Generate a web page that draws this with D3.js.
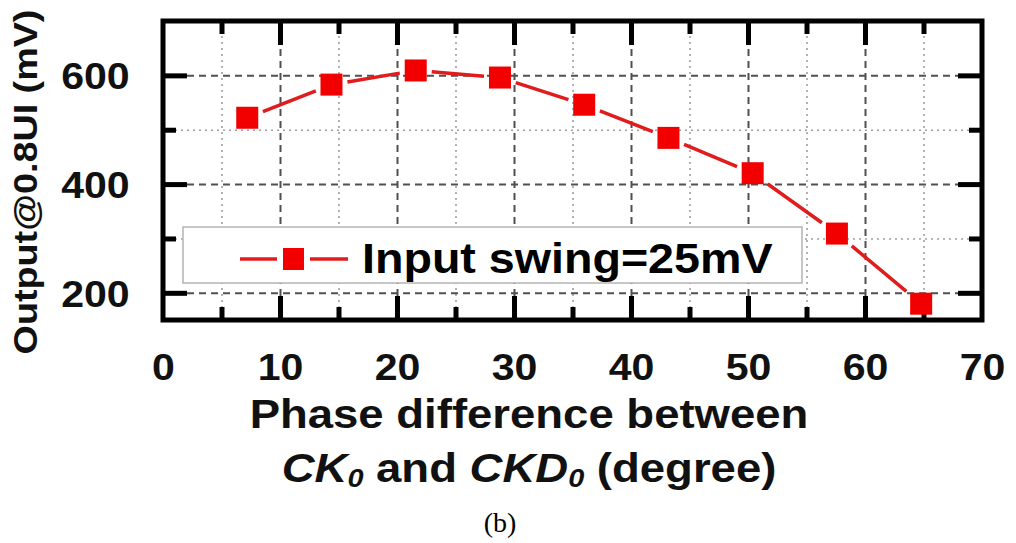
<!DOCTYPE html>
<html>
<head>
<meta charset="utf-8">
<script src="https://cdn.jsdelivr.net/npm/d3@7"></script>
<style>
  body { margin: 0; background: #fff; }
  svg { display: block; }
</style>
</head>
<body>
<svg id="chart" width="1016" height="543"></svg>
<script>

// values
const phase  = [7.2, 14.4, 21.6, 28.8, 36, 43.2, 50.4, 57.6, 64.8];
const output = [522, 583, 609, 596, 546, 485, 420, 309, 180];

const xMajor = [0, 10, 20, 30, 40, 50, 60, 70];
const xMinor = [5, 15, 25, 35, 45, 55, 65];
const yMajor = [200, 400, 600];
const yMinor = [300, 500];

const seriesName = "Input swing=25mV";
const yTitle = "Output@0.8UI (mV)";
const caption = "(b)";

const FONT = "'Liberation Sans', Arial, Helvetica, sans-serif";
const RED_LINE = "#e01c1c";
const RED_MARK = "#f20000";
const STRETCH = 1.11;   // the original type is a bit wider than Arial

let svg = d3.select("#chart");

let m = { l: 163, r: 982, t: 21, b: 320 };
let pw = m.r - m.l, ph = m.b - m.t;

let x = d3.scaleLinear().domain([0, 70]).range([m.l, m.r]);
let y = d3.scaleLinear().domain([150, 700]).range([m.b, m.t]);

function bare(g) {
    g.select(".domain").remove();
    g.selectAll("text").remove();
}

// grid: dotted minor, dashed major
function grid(axis, tr, values, dash, color, w) {
    let g = svg.append("g").attr("transform", tr);
    g.call(axis.tickValues(values));
    bare(g);
    g.selectAll("line")
        .attr("stroke", color)
        .attr("stroke-width", w)
        .attr("stroke-dasharray", dash);
}
let xIn = xMajor.filter(v => v > 0 && v < 70);
grid(d3.axisBottom(x).tickSize(-ph), `translate(0,${m.b})`, xMinor, "2,4", "#a0a0a0", 1.6);
grid(d3.axisLeft(y).tickSize(-pw), `translate(${m.l},0)`, yMinor, "2,4", "#a0a0a0", 1.6);
grid(d3.axisBottom(x).tickSize(-ph), `translate(0,${m.b})`, xIn, "7,5", "#505050", 2);
grid(d3.axisLeft(y).tickSize(-pw), `translate(${m.l},0)`, yMajor, "7,5", "#505050", 2);

// legend box (covers the grid)
let lg = svg.append("g");
lg.append("rect")
    .attr("x", 183).attr("y", 227)
    .attr("width", 619).attr("height", 56)
    .attr("fill", "#fff")
    .attr("stroke", "#b4b4b4")
    .attr("stroke-width", 1.5);
lg.append("line").attr("x1", 240).attr("x2", 277).attr("y1", 259).attr("y2", 259)
    .attr("stroke", RED_LINE).attr("stroke-width", 3.5);
lg.append("line").attr("x1", 310).attr("x2", 348).attr("y1", 259).attr("y2", 259)
    .attr("stroke", RED_LINE).attr("stroke-width", 3.5);
lg.append("rect").attr("x", 283).attr("y", 248).attr("width", 21).attr("height", 22)
    .attr("fill", RED_MARK);
lg.append("text")
    .attr("transform", `translate(362,273) scale(${STRETCH},1)`)
    .attr("font-family", FONT).attr("font-weight", "bold").attr("font-size", 42)
    .text(seriesName);

// inward ticks on all four sides
function ticks(axis, tr, values, len) {
    let g = svg.append("g").attr("transform", tr);
    g.call(axis.tickValues(values).tickSize(-len));
    g.select(".domain").remove();
    g.selectAll("text").remove();
    g.selectAll("line")
        .attr("stroke", "#000")
        .attr("stroke-width", 5);
}
ticks(d3.axisBottom(x), `translate(0,${m.b})`, xIn, 24);
ticks(d3.axisBottom(x), `translate(0,${m.b})`, xMinor, 13);
ticks(d3.axisTop(x), `translate(0,${m.t})`, xIn, 24);
ticks(d3.axisTop(x), `translate(0,${m.t})`, xMinor, 13);
ticks(d3.axisLeft(y), `translate(${m.l},0)`, yMajor, 24);
ticks(d3.axisLeft(y), `translate(${m.l},0)`, yMinor, 13);
ticks(d3.axisRight(y), `translate(${m.r},0)`, yMajor, 24);
ticks(d3.axisRight(y), `translate(${m.r},0)`, yMinor, 13);

// frame
svg.append("rect")
    .attr("x", m.l).attr("y", m.t)
    .attr("width", pw).attr("height", ph)
    .attr("fill", "none")
    .attr("stroke", "#000")
    .attr("stroke-width", 5);

// series: segments stop short of the markers, like the original
let pts = phase.map((p, i) => [x(p), y(output[i])]);
let half = 11, gap = 5;
function trim(pair) {
    let [a, b] = pair;
    let dx = b[0] - a[0], dy = b[1] - a[1];
    let len = Math.hypot(dx, dy);
    let ux = dx / len, uy = dy / len;
    let d = half / Math.max(Math.abs(ux), Math.abs(uy)) + gap;
    return [[a[0] + ux * d, a[1] + uy * d], [b[0] - ux * d, b[1] - uy * d]];
}
let seg = d3.line();
svg.append("g").selectAll("path")
    .data(d3.pairs(pts))
    .join("path")
    .attr("d", p => seg(trim(p)))
    .attr("fill", "none")
    .attr("stroke", RED_LINE)
    .attr("stroke-width", 3.5);

svg.append("g").selectAll("rect")
    .data(phase.map((p, i) => ({ p: p, v: output[i] })))
    .join("rect")
    .attr("x", d => x(d.p) - half)
    .attr("y", d => y(d.v) - half)
    .attr("width", half * 2)
    .attr("height", half * 2)
    .attr("fill", RED_MARK);

// tick labels
let xl = svg.append("g").attr("transform", `translate(0,${m.b})`)
    .call(d3.axisBottom(x).tickValues(xMajor).tickSize(0));
xl.select(".domain").remove();
xl.selectAll("line").remove();
xl.selectAll("text")
    .attr("y", 60).attr("dy", 0)
    .attr("transform", `scale(${STRETCH},1)`)
    .attr("font-family", FONT).attr("font-weight", "bold").attr("font-size", 37)
    .attr("fill", "#111");

let yl = svg.append("g").attr("transform", `translate(${m.l},0)`)
    .call(d3.axisLeft(y).tickValues(yMajor).tickSize(0).tickPadding(30));
yl.select(".domain").remove();
yl.selectAll("line").remove();
yl.selectAll("text")
    .attr("dy", "0.36em")
    .attr("transform", `scale(${STRETCH},1)`)
    .attr("font-family", FONT).attr("font-weight", "bold").attr("font-size", 37)
    .attr("fill", "#111");

// axis titles
svg.append("text")
    .attr("transform", `translate(37,182) rotate(-90) scale(${STRETCH},1)`)
    .attr("text-anchor", "middle")
    .attr("font-family", FONT).attr("font-weight", "bold").attr("font-size", 34)
    .attr("fill", "#111")
    .text(yTitle);

svg.append("text")
    .attr("transform", `translate(529,428) scale(${STRETCH},1)`)
    .attr("text-anchor", "middle")
    .attr("font-family", FONT).attr("font-weight", "bold").attr("font-size", 41)
    .attr("fill", "#111")
    .text("Phase difference between");

let t2 = svg.append("text")
    .attr("transform", `translate(529,482) scale(${STRETCH},1)`)
    .attr("text-anchor", "middle")
    .attr("font-family", FONT).attr("font-weight", "bold").attr("font-size", 41)
    .attr("fill", "#111");
t2.append("tspan").attr("font-style", "italic").text("CK");
t2.append("tspan").attr("font-style", "italic").attr("font-size", 26).attr("dy", 5).text("0");
t2.append("tspan").attr("dy", -5).text(" and ");
t2.append("tspan").attr("font-style", "italic").text("CKD");
t2.append("tspan").attr("font-style", "italic").attr("font-size", 26).attr("dy", 5).text("0");
t2.append("tspan").attr("dy", -5).text(" (degree)");

svg.append("text")
    .attr("x", 500).attr("y", 532)
    .attr("text-anchor", "middle")
    .attr("font-family", "'Liberation Serif', 'Times New Roman', serif")
    .attr("font-size", 28)
    .text(caption);

</script>
</body>
</html>
